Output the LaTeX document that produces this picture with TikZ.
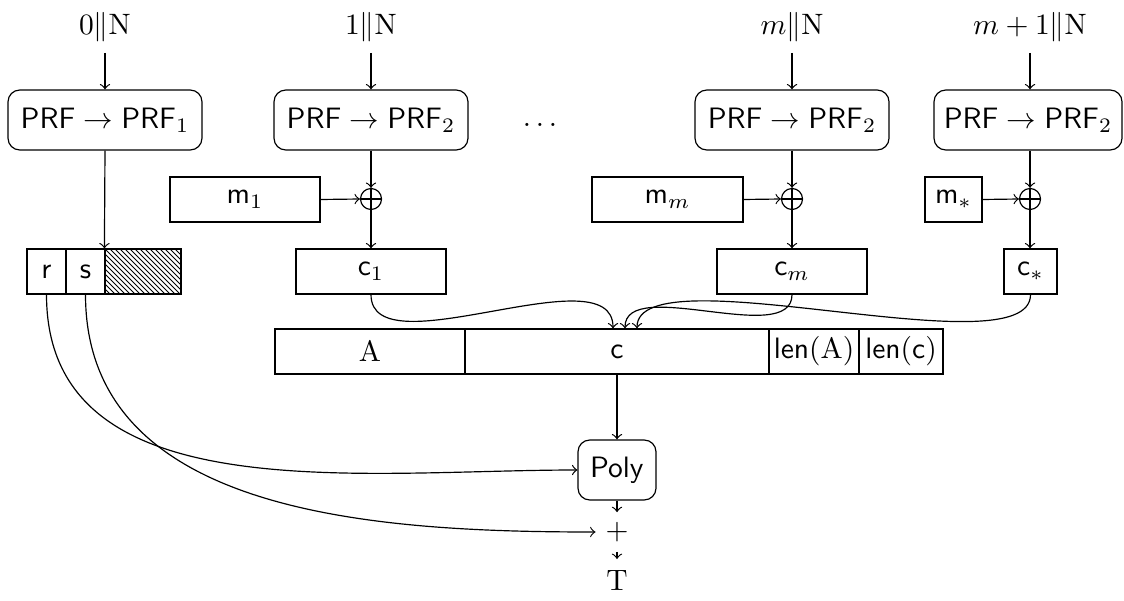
\documentclass[tikz,border=0pt]{standalone}
\usepackage{amsmath}
\usetikzlibrary{calc}
\newdimen\px
\px=0.33898pt
\begin{document}
\begin{tikzpicture}[x=0.33898pt, y=-0.33898pt, line width=0.4pt, >=to,
  lbl/.style={inner sep=3.33pt},
  prf/.style={draw, rounded corners=4pt, minimum width=194\px, minimum height=60\px, inner sep=0pt},
  blk/.style={draw, minimum height=45\px, inner sep=0pt},
  xorn/.style={circle, draw, minimum size=21\px, inner sep=0pt,
    path picture={\draw (path picture bounding box.north) -- (path picture bounding box.south)
                        (path picture bounding box.west) -- (path picture bounding box.east);}},
  polybox/.style={draw, rounded corners=4pt, minimum width=78\px, minimum height=60\px, inner sep=0pt}]
\useasboundingbox (0,0) rectangle (1124,601);

% top labels
\node[lbl, anchor=base] (n0) at (105,35) {$0\|\mathrm{N}$};
\node[lbl, anchor=base] (n1) at (371,35) {$1\|\mathrm{N}$};
\node[lbl, anchor=base] (n2) at (792,35) {$m\|\mathrm{N}$};
\node[lbl, anchor=base] (n3) at (1030,35) {$m+1\|\mathrm{N}$};

% PRF boxes
\node[prf] (p1) at (105,120) {$\mathsf{PRF}\to\mathsf{PRF}_1$};
\node[prf] (p2) at (371,120) {$\mathsf{PRF}\to\mathsf{PRF}_2$};
\node[prf] (p3) at (792,120) {$\mathsf{PRF}\to\mathsf{PRF}_2$};
\node[prf, minimum width=188\px] (p4) at (1028,120) {$\mathsf{PRF}\to\mathsf{PRF}_2$};
\node (dots) at (540,125) {$\ldots$};

% xors
\node[xorn] (x1) at (371,199) {};
\node[xorn] (x2) at (792,199) {};
\node[xorn] (x3) at (1030,199) {};

% message blocks
\node[blk, minimum width=150\px] (m1) at (245,199.5) {$\mathsf{m}_1$};
\node[blk, minimum width=151\px] (mm) at (667.5,199.5) {$\mathsf{m}_m$};
\node[blk, minimum width=57\px] (ms) at (953.5,199.5) {$\mathsf{m}_*$};

% cipher blocks
\node[blk, minimum width=150\px] (c1) at (371,271.5) {$\mathsf{c}_1$};
\node[blk, minimum width=150\px] (cm) at (792,271.5) {$\mathsf{c}_m$};
\node[blk, minimum width=53\px] (cs) at (1030.5,271.5) {$\mathsf{c}_*$};

% r s hatch
\node[blk, minimum width=39\px] (r) at (46.5,271.5) {$\mathsf{r}$};
\node[blk, minimum width=39\px] (s) at (85.5,271.5) {$\mathsf{s}$};
\node[blk, minimum width=76\px] (hatch) at (143,271.5) {};
\begin{scope}
\clip (hatch.south west) rectangle (hatch.north east);
\foreach \i in {60,65,...,180} \draw[line width=0.3pt] (\i,249) -- (\i+45,294);
\end{scope}

% row
\node[blk, minimum width=190\px] (A) at (370,351.5) {$\mathrm{A}$};
\node[blk, minimum width=304\px] (crow) at (617,351.5) {$\mathsf{c}$};
\node[blk, minimum width=90\px] (lenA) at (814,351.5) {$\mathsf{len}(\mathrm{A})$};
\node[blk, minimum width=84\px] (lenc) at (901,351.5) {$\mathsf{len}(\mathsf{c})$};

% poly, plus, T
\node[polybox] (poly) at (617,470) {$\mathsf{Poly}$};
\node[inner sep=3.2pt] (plus) at (617,532) {$+$};
\node[inner sep=3.5pt] (T) at (617,580) {$\mathrm{T}$};

% connectors
\draw[->] (n0.south) -- (p1.north);
\draw[->] (n1.south) -- (p2.north);
\draw[->] (n2.south) -- (p3.north);
\draw[->] (n3.south) -- (n3.south |- p4.north);
\draw[->] (p1.south) -- (hatch.north west);
\draw[->] (p2.south) -- (x1.north);
\draw[->] (p3.south) -- (x2.north);
\draw[->] (p4.south -| x3.north) -- (x3.north);
\draw[->] (m1.east) -- (x1.west);
\draw[->] (mm.east) -- (x2.west);
\draw[->] (ms.east) -- (x3.west);
\draw[->] (x1.south) -- (c1.north);
\draw[->] (x2.south) -- (cm.north);
\draw[->] (x3.south) -- (cs.north -| x3.south);
\draw[->] (c1.south) to[out=-90,in=90,looseness=0.8] ([xshift=-4\px]crow.north);
\draw[->] (cm.south) to[out=-90,in=90,looseness=0.8] ([xshift=8\px]crow.north);
\draw[->] (cs.south) to[out=-90,in=90,looseness=0.5] ([xshift=20\px]crow.north);
\draw[->] (crow.south) -- (poly.north);
\draw[->] (r.south) to[out=-90,in=180] (poly.west);
\draw[->] (s.south) to[out=-90,in=180] (plus.west);
\draw[->] (poly.south) -- (plus.north);
\draw[->] (plus.south) -- (T.north);
\end{tikzpicture}
\end{document}
